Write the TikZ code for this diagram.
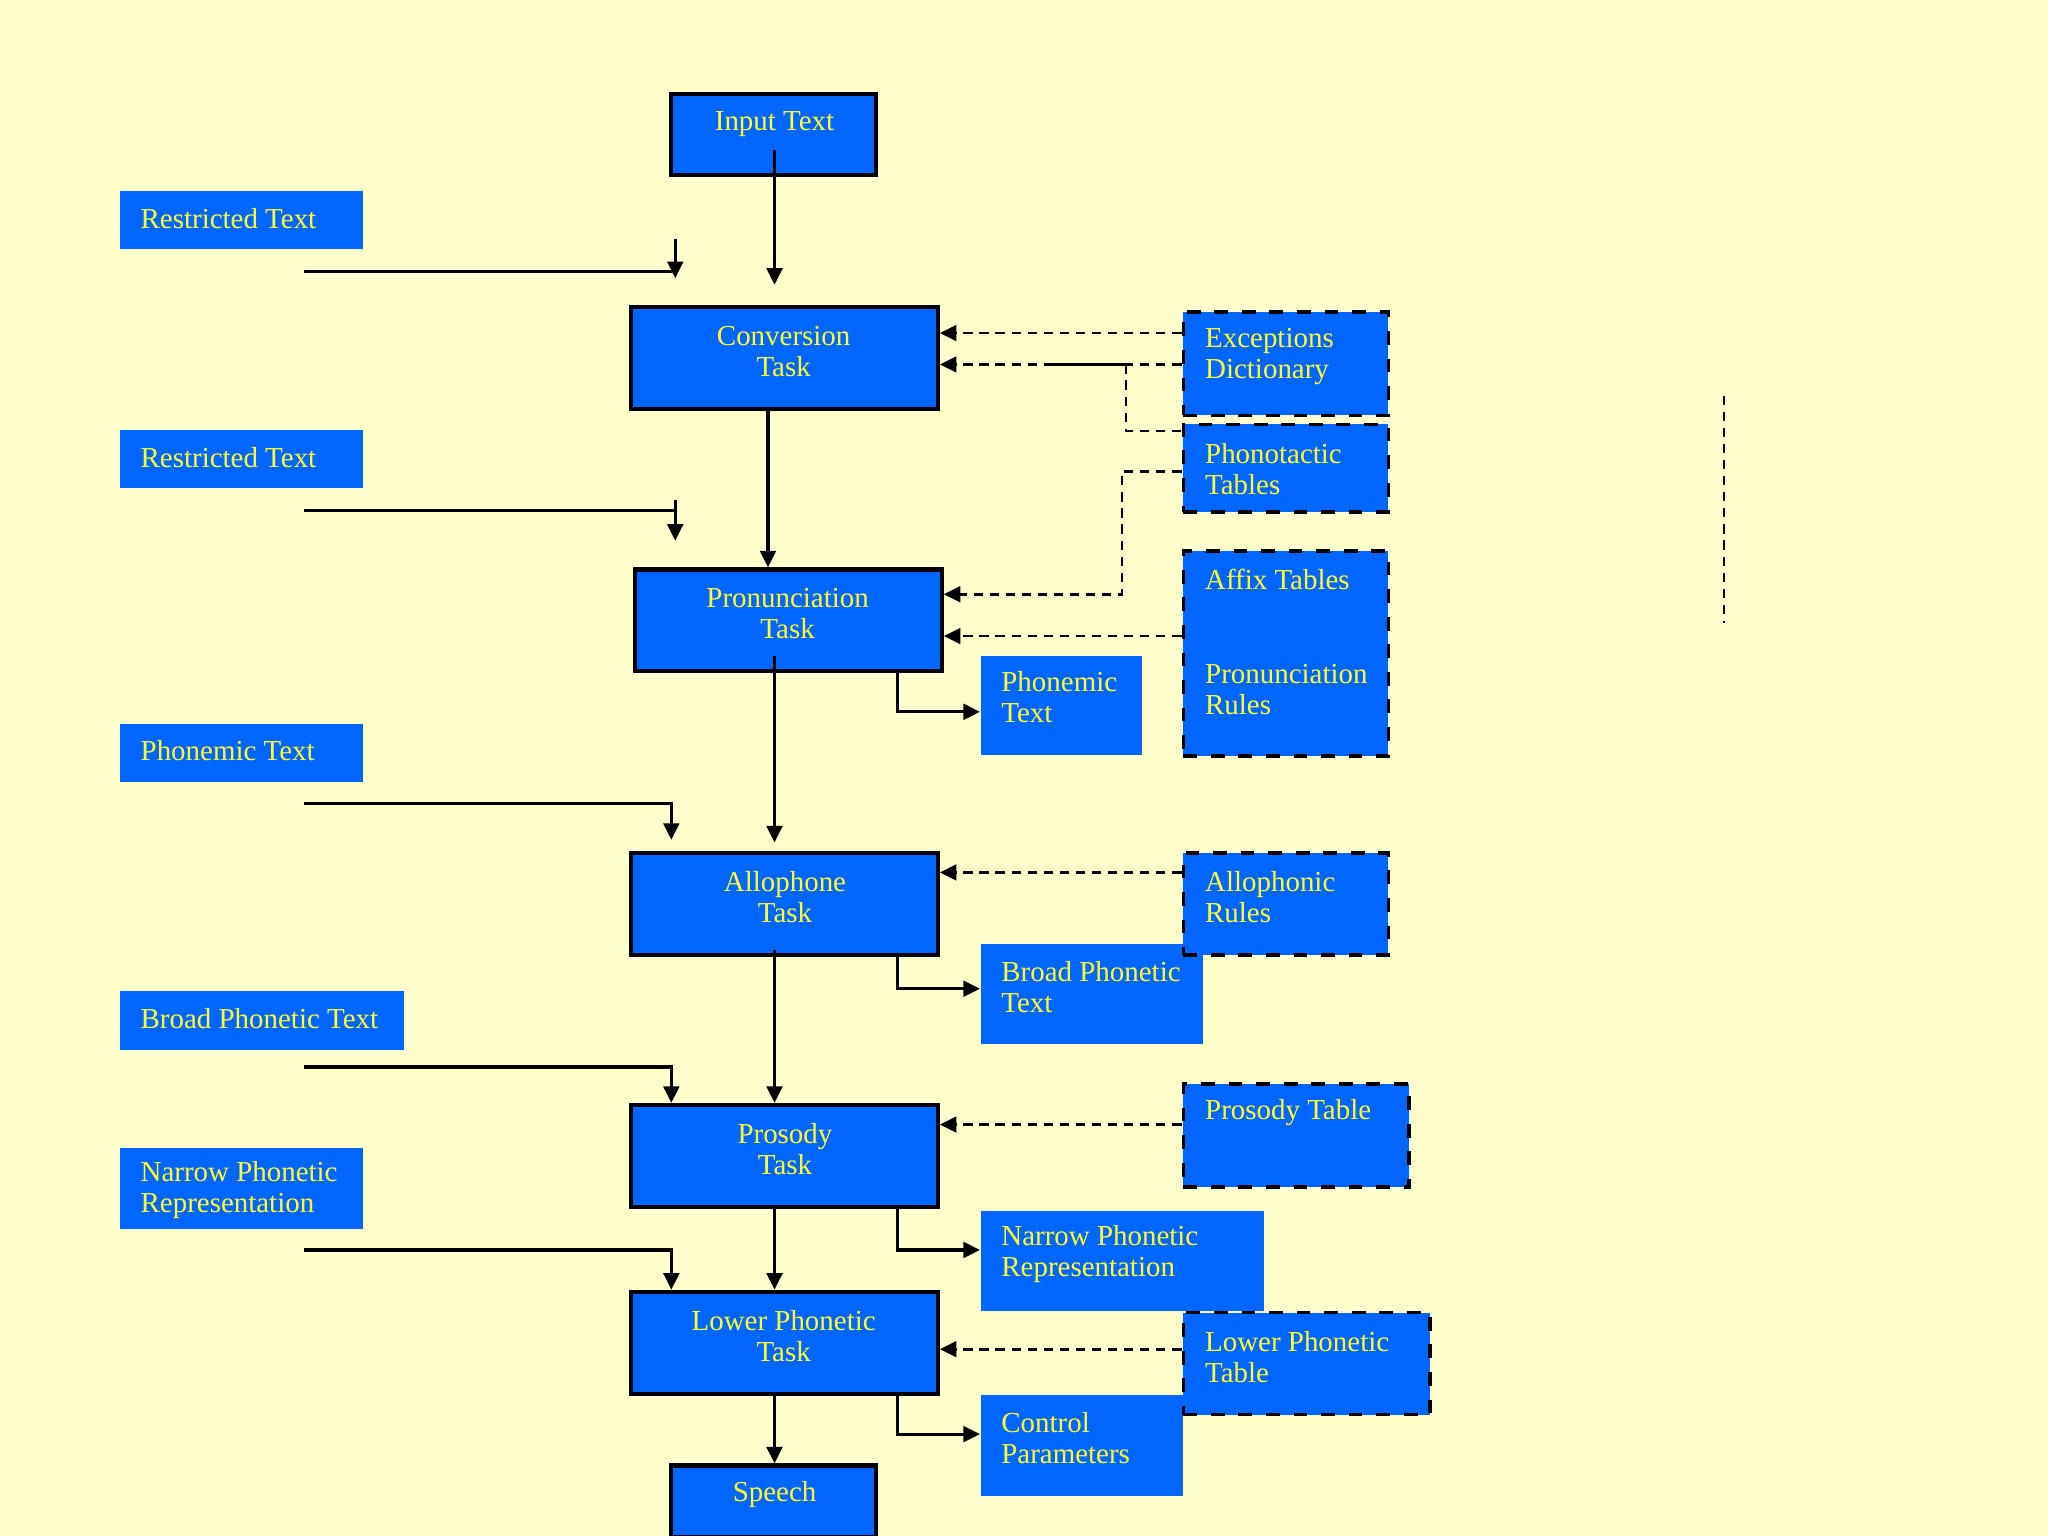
\documentclass[tikz,border=0pt]{standalone}
\usepackage{fontspec}
\setmainfont{Liberation Serif}
\usetikzlibrary{fit,arrows.meta}
\definecolor{bg}{HTML}{FFFFCC}
\definecolor{bx}{HTML}{0066FF}
\definecolor{tx}{HTML}{FFFF33}
\tikzset{
 task/.style={draw=black,fill=bx,line width=0.9pt,inner sep=0pt},
 side/.style={fill=bx,inner sep=0pt},
 store/.style={draw=black,fill=bx,dashed,line width=0.8pt,inner sep=0pt},
 lab/.style={text=tx,inner sep=0pt,font=\fontsize{6.3}{6.8}\selectfont},
 flow/.style={line width=0.7pt,-{Triangle[length=3.6pt,width=3.4pt]}},
 plain/.style={line width=0.7pt},
 dflow/.style={line width=0.6pt,dash pattern=on 2pt off 1.5pt,-{Triangle[length=3.6pt,width=3.4pt]}},
 dline/.style={line width=0.6pt,dash pattern=on 2pt off 1.5pt},
}
\begin{document}
\begin{tikzpicture}[x=0.01cm,y=-0.01cm]
\fill[bg] (0,0) rectangle (1568,1176);
\useasboundingbox (0,0) rectangle (1568,1176);
% task boxes
\node[task,fit={(514,72)(671,134)}] (inp) {};
\node[lab,align=center] (inpt) at (593,95) {Input Text};
\node[task,fit={(483,235)(718,313)}] (conv) {};
\node[lab,align=center] (convt) at (600,269) {Conversion\\ Task};
\node[task,fit={(486,436)(721,514)}] (pron) {};
\node[lab,align=center] (pront) at (603,470) {Pronunciation\\ Task};
\node[task,fit={(483,653)(718,731)}] (allo) {};
\node[lab,align=center] (allot) at (601,687) {Allophone\\ Task};
\node[task,fit={(483,846)(718,924)}] (pros) {};
\node[lab,align=center] (prost) at (601,880) {Prosody\\ Task};
\node[task,fit={(483,989)(718,1067)}] (low) {};
\node[lab,align=center] (lowt) at (600,1023) {Lower Phonetic\\ Task};
\node[task,fit={(514,1122)(671,1177)}] (sp) {};
\node[lab,align=center] (spt) at (593,1144) {Speech};
% left side boxes
\node[side,fit={(92,146)(278,191)}] (r1) {};
\node[lab,anchor=west] (r1t) at (107,167) {Restricted Text};
\node[side,fit={(92,329)(278,374)}] (r2) {};
\node[lab,anchor=west] (r2t) at (107,350) {Restricted Text};
\node[side,fit={(92,554)(278,599)}] (p1) {};
\node[lab,anchor=west] (p1t) at (107,575) {Phonemic Text};
\node[side,fit={(92,759)(309,804)}] (b1) {};
\node[lab,anchor=west] (b1t) at (107,780) {Broad Phonetic Text};
\node[side,fit={(92,879)(278,941)}] (n1) {};
\node[lab,anchor=west,align=left] (n1t) at (107,911) {Narrow Phonetic\\Representation};
% right outputs
\node[side,fit={(751,502)(874,578)}] (po) {};
\node[lab,anchor=west,align=left] (pot) at (766,534) {Phonemic\\Text};
\node[side,fit={(751,723)(921,799)}] (bo) {};
\node[lab,anchor=west,align=left] (bot) at (766,756) {Broad Phonetic\\Text};
\node[side,fit={(751,927)(968,1004)}] (no) {};
\node[lab,anchor=west,align=left] (not) at (766,960) {Narrow Phonetic\\Representation};
\node[side,fit={(751,1068)(906,1145)}] (co) {};
\node[lab,anchor=west,align=left] (cot) at (766,1101) {Control\\Parameters};
% stores
\node[store,fit={(906,239)(1063,318)}] (ex) {};
\node[lab,anchor=west,align=left] (ext) at (922,273) {Exceptions\\Dictionary};
\node[store,fit={(906,325)(1063,392)}] (ph) {};
\node[lab,anchor=west,align=left] (pht) at (922,359) {Phonotactic\\Tables};
\node[store,fit={(906,422)(1063,579)}] (af) {};
\node[lab,anchor=west] (aft) at (922,444) {Affix Tables};
\node[lab,anchor=west,align=left] (prt) at (922,528) {Pronunciation\\Rules};
\node[store,fit={(906,653)(1063,731)}] (ar) {};
\node[lab,anchor=west,align=left] (art) at (922,687) {Allophonic\\Rules};
\node[store,fit={(906,830)(1079,909)}] (pt) {};
\node[lab,anchor=west] (ptt) at (922,852) {Prosody Table};
\node[store,fit={(906,1005)(1095,1083)}] (lt) {};
\node[lab,anchor=west,align=left] (ltt) at (922,1039) {Lower Phonetic\\Table};
% main flow
\coordinate (a1) at (593,115); \coordinate (a2) at (593,218);
\draw[flow] (a1) -- (a2);
\draw[flow] (conv.south -| 588,0) -- (pron.north -| 588,0);
\coordinate (b2) at (593,502); \coordinate (b3) at (593,645);
\draw[flow] (b2) -- (b3);
\coordinate (c2) at (593,727);
\draw[flow] (c2) -- (pros.north -| 593,0);
\draw[flow] (pros.south -| 593,0) -- (low.north -| 593,0);
\draw[flow] (low.south -| 593,0) -- (sp.north -| 593,0);
% left inputs
\coordinate (l1) at (233,208); \coordinate (l1e) at (517,208);
\draw[plain] (l1) -- (l1e);
\coordinate (l1a) at (517,183); \coordinate (l1b) at (517,213);
\draw[flow] (l1a) -- (l1b);
\coordinate (l2) at (233,391); \coordinate (l2e) at (517,391);
\draw[plain] (l2) -- (l2e);
\coordinate (l2a) at (517,383); \coordinate (l2b) at (517,414);
\draw[flow] (l2a) -- (l2b);
\coordinate (l3) at (233,615); \coordinate (l3b) at (514,643);
\draw[flow] (l3) -- (514,615) -- (l3b);
\coordinate (l4) at (233,817);
\draw[flow] (l4) -| (pros.north -| 514,0);
\coordinate (l5) at (233,957);
\draw[flow] (l5) -| (low.north -| 514,0);
% outputs
\draw[flow] (pron.south -| 687,0) |- (po.west |- 0,545);
\draw[flow] (allo.south -| 687,0) |- (bo.west |- 0,757);
\draw[flow] (pros.south -| 687,0) |- (no.west |- 0,957);
\draw[flow] (low.south -| 687,0) |- (co.west |- 0,1098);
% stores
\draw[dflow] (ex.west |- 0,255) -- (conv.east |- 0,255);
\draw[dflow] (ex.west |- 0,279) -- (conv.east |- 0,279);
\coordinate (s1) at (806,279); \coordinate (s2) at (862,279);
\draw[plain] (s1) -- (s2);
\draw[dline] (s2) -- (862,330) -- (ph.west |- 0,330);
\draw[dflow] (ph.west |- 0,361) -- (859,361) -- (859,455) -- (pron.east |- 0,455);
\draw[dflow] (af.west |- 0,487) -- (pron.east |- 0,487);
\draw[dflow] (ar.west |- 0,668) -- (allo.east |- 0,668);
\draw[dflow] (pt.west |- 0,861) -- (pros.east |- 0,861);
\draw[dflow] (lt.west |- 0,1033) -- (low.east |- 0,1033);
\coordinate (v1) at (1320,303); \coordinate (v2) at (1320,477);
\draw[dline] (v1) -- (v2);
\end{tikzpicture}
\end{document}
